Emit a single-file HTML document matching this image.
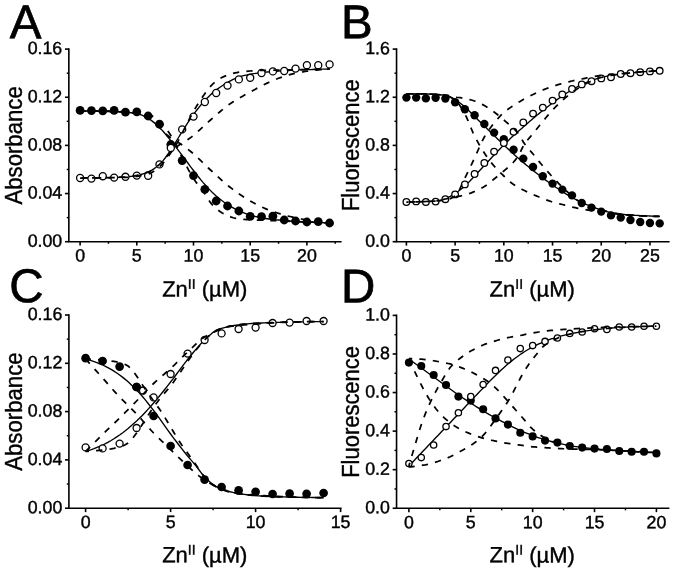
<!DOCTYPE html>
<html><head><meta charset="utf-8"><title>Figure</title>
<style>html,body{margin:0;padding:0;background:#fff;}body{width:675px;height:570px;overflow:hidden;font-family:"Liberation Sans", sans-serif;}svg{display:block;will-change:transform;filter:blur(0.35px);}</style></head>
<body>
<svg width="675" height="570" viewBox="0 0 675 570" font-family='"Liberation Sans", sans-serif' fill="#000">
<style>text{stroke:#000;stroke-width:0.4px;}</style>
<rect width="675" height="570" fill="#fff"/>
<path d="M80.10 111.00 L81.99 111.00 L83.88 111.01 L85.77 111.02 L87.66 111.03 L89.55 111.04 L91.44 111.06 L93.33 111.08 L95.22 111.10 L97.11 111.12 L99.00 111.15 L100.89 111.17 L102.78 111.20 L104.67 111.23 L106.56 111.28 L108.45 111.33 L110.34 111.39 L112.23 111.47 L114.12 111.55 L116.01 111.64 L117.90 111.73 L119.79 111.84 L121.68 111.95 L123.57 112.07 L125.46 112.20 L127.35 112.34 L129.24 112.52 L131.13 112.73 L133.02 112.97 L134.91 113.26 L136.80 113.60 L138.69 114.06 L140.58 114.70 L142.47 115.49 L144.36 116.39 L146.25 117.37 L148.14 118.40 L150.03 119.55 L151.92 120.89 L153.81 122.39 L155.70 124.01 L157.59 125.72 L159.48 127.50 L161.37 129.40 L163.26 131.49 L165.15 133.71 L167.04 136.02 L168.93 138.36 L170.82 140.70 L172.71 143.05 L174.60 145.47 L176.49 147.93 L178.38 150.41 L180.27 152.91 L182.16 155.40 L184.05 157.91 L185.94 160.45 L187.83 163.00 L189.72 165.54 L191.61 168.04 L193.50 170.50 L195.39 172.93 L197.28 175.35 L199.17 177.74 L201.06 180.08 L202.95 182.34 L204.84 184.50 L206.73 186.59 L208.62 188.63 L210.51 190.61 L212.40 192.51 L214.29 194.31 L216.18 196.00 L218.07 197.59 L219.96 199.12 L221.85 200.57 L223.74 201.95 L225.63 203.26 L227.52 204.50 L229.41 205.69 L231.30 206.83 L233.19 207.92 L235.08 208.96 L236.97 209.92 L238.86 210.80 L240.75 211.62 L242.64 212.39 L244.53 213.11 L246.42 213.79 L248.31 214.42 L250.20 215.00 L252.09 215.55 L253.98 216.07 L255.87 216.56 L257.76 217.01 L259.65 217.43 L261.54 217.80 L263.43 218.14 L265.32 218.46 L267.21 218.76 L269.10 219.03 L270.99 219.28 L272.88 219.50 L274.77 219.70 L276.66 219.87 L278.55 220.03 L280.44 220.19 L282.33 220.34 L284.22 220.50 L286.11 220.67 L288.00 220.86 L289.89 221.04 L291.78 221.22 L293.67 221.37 L295.56 221.50 L297.45 221.60 L299.34 221.69 L301.23 221.77 L303.12 221.85 L305.01 221.92 L306.90 222.00 L308.79 222.08 L310.68 222.17 L312.57 222.25 L314.46 222.33 L316.35 222.42 L318.24 222.50 L320.13 222.58 L322.02 222.67 L323.91 222.75 L325.80 222.83 L327.69 222.92 L329.58 223.00" fill="none" stroke="#000" stroke-width="1.35"/>
<path d="M80.10 178.00 L81.99 177.99 L83.88 177.98 L85.77 177.96 L87.66 177.94 L89.55 177.92 L91.44 177.89 L93.33 177.86 L95.22 177.83 L97.11 177.80 L99.00 177.77 L100.89 177.73 L102.78 177.70 L104.67 177.66 L106.56 177.63 L108.45 177.59 L110.34 177.55 L112.23 177.50 L114.12 177.45 L116.01 177.40 L117.90 177.33 L119.79 177.26 L121.68 177.19 L123.57 177.10 L125.46 177.00 L127.35 176.86 L129.24 176.65 L131.13 176.39 L133.02 176.09 L134.91 175.76 L136.80 175.40 L138.69 175.01 L140.58 174.54 L142.47 174.02 L144.36 173.42 L146.25 172.75 L148.14 172.00 L150.03 171.12 L151.92 170.07 L153.81 168.86 L155.70 167.50 L157.59 166.01 L159.48 164.40 L161.37 162.56 L163.26 160.39 L165.15 157.98 L167.04 155.40 L168.93 152.71 L170.82 150.00 L172.71 147.17 L174.60 144.12 L176.49 140.94 L178.38 137.72 L180.27 134.55 L182.16 131.50 L184.05 128.55 L185.94 125.61 L187.83 122.70 L189.72 119.87 L191.61 117.13 L193.50 114.50 L195.39 111.96 L197.28 109.48 L199.17 107.08 L201.06 104.77 L202.95 102.57 L204.84 100.50 L206.73 98.54 L208.62 96.65 L210.51 94.84 L212.40 93.13 L214.29 91.51 L216.18 90.00 L218.07 88.58 L219.96 87.23 L221.85 85.95 L223.74 84.74 L225.63 83.59 L227.52 82.50 L229.41 81.44 L231.30 80.40 L233.19 79.41 L235.08 78.49 L236.97 77.68 L238.86 77.00 L240.75 76.43 L242.64 75.92 L244.53 75.46 L246.42 75.04 L248.31 74.66 L250.20 74.30 L252.09 73.96 L253.98 73.65 L255.87 73.36 L257.76 73.08 L259.65 72.83 L261.54 72.60 L263.43 72.39 L265.32 72.19 L267.21 72.00 L269.10 71.82 L270.99 71.66 L272.88 71.50 L274.77 71.35 L276.66 71.21 L278.55 71.07 L280.44 70.94 L282.33 70.82 L284.22 70.70 L286.11 70.59 L288.00 70.48 L289.89 70.37 L291.78 70.28 L293.67 70.18 L295.56 70.10 L297.45 70.02 L299.34 69.95 L301.23 69.89 L303.12 69.83 L305.01 69.76 L306.90 69.70 L308.79 69.63 L310.68 69.56 L312.57 69.49 L314.46 69.42 L316.35 69.36 L318.24 69.30 L320.13 69.24 L322.02 69.19 L323.91 69.14 L325.80 69.09 L327.69 69.04 L329.58 69.00" fill="none" stroke="#000" stroke-width="1.35"/>
<circle cx="80.10" cy="110.40" r="4.40" fill="#000"/>
<circle cx="91.44" cy="110.60" r="4.40" fill="#000"/>
<circle cx="102.78" cy="110.80" r="4.40" fill="#000"/>
<circle cx="114.12" cy="110.40" r="4.40" fill="#000"/>
<circle cx="125.46" cy="112.20" r="4.40" fill="#000"/>
<circle cx="136.80" cy="111.80" r="4.40" fill="#000"/>
<circle cx="148.14" cy="116.00" r="4.40" fill="#000"/>
<circle cx="159.48" cy="124.20" r="4.40" fill="#000"/>
<circle cx="170.82" cy="144.50" r="4.40" fill="#000"/>
<circle cx="182.16" cy="160.60" r="4.40" fill="#000"/>
<circle cx="193.50" cy="175.60" r="4.40" fill="#000"/>
<circle cx="204.84" cy="189.40" r="4.40" fill="#000"/>
<circle cx="216.18" cy="201.00" r="4.40" fill="#000"/>
<circle cx="227.52" cy="206.00" r="4.40" fill="#000"/>
<circle cx="238.86" cy="211.00" r="4.40" fill="#000"/>
<circle cx="250.20" cy="216.40" r="4.40" fill="#000"/>
<circle cx="261.54" cy="216.60" r="4.40" fill="#000"/>
<circle cx="272.88" cy="216.20" r="4.40" fill="#000"/>
<circle cx="284.22" cy="220.00" r="4.40" fill="#000"/>
<circle cx="295.56" cy="221.00" r="4.40" fill="#000"/>
<circle cx="306.90" cy="222.00" r="4.40" fill="#000"/>
<circle cx="318.24" cy="221.60" r="4.40" fill="#000"/>
<circle cx="329.58" cy="223.00" r="4.40" fill="#000"/>
<circle cx="80.10" cy="178.00" r="3.55" fill="#fff" stroke="#000" stroke-width="1.30"/>
<circle cx="91.44" cy="178.60" r="3.55" fill="#fff" stroke="#000" stroke-width="1.30"/>
<circle cx="102.78" cy="176.20" r="3.55" fill="#fff" stroke="#000" stroke-width="1.30"/>
<circle cx="114.12" cy="177.60" r="3.55" fill="#fff" stroke="#000" stroke-width="1.30"/>
<circle cx="125.46" cy="176.80" r="3.55" fill="#fff" stroke="#000" stroke-width="1.30"/>
<circle cx="136.80" cy="175.60" r="3.55" fill="#fff" stroke="#000" stroke-width="1.30"/>
<circle cx="148.14" cy="175.80" r="3.55" fill="#fff" stroke="#000" stroke-width="1.30"/>
<circle cx="159.48" cy="164.40" r="3.55" fill="#fff" stroke="#000" stroke-width="1.30"/>
<circle cx="170.82" cy="148.00" r="3.55" fill="#fff" stroke="#000" stroke-width="1.30"/>
<circle cx="182.16" cy="129.40" r="3.55" fill="#fff" stroke="#000" stroke-width="1.30"/>
<circle cx="193.50" cy="116.60" r="3.55" fill="#fff" stroke="#000" stroke-width="1.30"/>
<circle cx="204.84" cy="102.00" r="3.55" fill="#fff" stroke="#000" stroke-width="1.30"/>
<circle cx="216.18" cy="93.00" r="3.55" fill="#fff" stroke="#000" stroke-width="1.30"/>
<circle cx="227.52" cy="85.60" r="3.55" fill="#fff" stroke="#000" stroke-width="1.30"/>
<circle cx="238.86" cy="79.40" r="3.55" fill="#fff" stroke="#000" stroke-width="1.30"/>
<circle cx="250.20" cy="77.80" r="3.55" fill="#fff" stroke="#000" stroke-width="1.30"/>
<circle cx="261.54" cy="73.00" r="3.55" fill="#fff" stroke="#000" stroke-width="1.30"/>
<circle cx="272.88" cy="71.40" r="3.55" fill="#fff" stroke="#000" stroke-width="1.30"/>
<circle cx="284.22" cy="71.00" r="3.55" fill="#fff" stroke="#000" stroke-width="1.30"/>
<circle cx="295.56" cy="68.60" r="3.55" fill="#fff" stroke="#000" stroke-width="1.30"/>
<circle cx="306.90" cy="65.20" r="3.55" fill="#fff" stroke="#000" stroke-width="1.30"/>
<circle cx="318.24" cy="65.20" r="3.55" fill="#fff" stroke="#000" stroke-width="1.30"/>
<circle cx="329.58" cy="64.40" r="3.55" fill="#fff" stroke="#000" stroke-width="1.30"/>
<path d="M80.10 111.00 L81.99 111.00 L83.88 111.00 L85.77 111.01 L87.66 111.02 L89.55 111.03 L91.44 111.04 L93.33 111.05 L95.22 111.07 L97.11 111.08 L99.00 111.10 L100.89 111.13 L102.78 111.15 L104.67 111.18 L106.56 111.20 L108.45 111.24 L110.34 111.27 L112.23 111.30 L114.12 111.34 L116.01 111.38 L117.90 111.42 L119.79 111.46 L121.68 111.50 L123.57 111.55 L125.46 111.60 L127.35 111.67 L129.24 111.77 L131.13 111.90 L133.02 112.06 L134.91 112.26 L136.80 112.49 L138.69 112.75 L140.58 113.04 L142.47 113.36 L144.36 113.71 L146.25 114.09 L148.14 114.50 L150.03 115.07 L151.92 115.90 L153.81 116.95 L155.70 118.18 L157.59 119.54 L159.48 121.00 L161.37 122.72 L163.26 124.83 L165.15 127.23 L167.04 129.84 L168.93 132.55 L170.82 135.57 L172.71 138.90 L174.60 142.41 L176.49 146.00 L178.38 149.76 L180.27 153.68 L182.16 157.50 L184.05 161.20 L185.94 164.90 L187.83 168.55 L189.72 172.07 L191.61 175.41 L193.50 178.50 L195.39 181.31 L197.28 183.89 L199.17 186.34 L201.06 188.75 L202.95 191.20 L204.84 193.80 L206.73 196.72 L208.62 199.81 L210.51 202.62 L212.40 204.80 L214.29 206.71 L216.18 208.46 L218.07 210.06 L219.96 211.48 L221.85 212.74 L223.74 213.81 L225.63 214.74 L227.52 215.61 L229.41 216.42 L231.30 217.13 L233.19 217.74 L235.08 218.22 L236.97 218.56 L238.86 218.81 L240.75 219.03 L242.64 219.21 L244.53 219.37 L246.42 219.51 L248.31 219.62 L250.20 219.73 L252.09 219.82 L253.98 219.91 L255.87 219.99 L257.76 220.06 L259.65 220.13 L261.54 220.20 L263.43 220.26 L265.32 220.33 L267.21 220.39 L269.10 220.46 L270.99 220.53 L272.88 220.60 L274.77 220.68 L276.66 220.75 L278.55 220.83 L280.44 220.91 L282.33 220.98 L284.22 221.06 L286.11 221.14 L288.00 221.21 L289.89 221.29 L291.78 221.37 L293.67 221.45 L295.56 221.52 L297.45 221.60 L299.34 221.68 L301.23 221.76 L303.12 221.84 L305.01 221.92 L306.90 222.00 L308.79 222.08 L310.68 222.16 L312.57 222.24 L314.46 222.33 L316.35 222.41 L318.24 222.49 L320.13 222.58 L322.02 222.66 L323.91 222.74 L325.80 222.83 L327.69 222.91 L329.58 223.00" fill="none" stroke="#000" stroke-width="1.75" stroke-dasharray="6.3 7.2" stroke-dashoffset="0"/>
<path d="M80.10 111.00 L81.99 111.00 L83.88 111.01 L85.77 111.02 L87.66 111.03 L89.55 111.05 L91.44 111.07 L93.33 111.10 L95.22 111.13 L97.11 111.17 L99.00 111.21 L100.89 111.25 L102.78 111.30 L104.67 111.35 L106.56 111.41 L108.45 111.47 L110.34 111.53 L112.23 111.60 L114.12 111.67 L116.01 111.75 L117.90 111.83 L119.79 111.92 L121.68 112.01 L123.57 112.10 L125.46 112.20 L127.35 112.34 L129.24 112.57 L131.13 112.88 L133.02 113.26 L134.91 113.71 L136.80 114.23 L138.69 114.80 L140.58 115.43 L142.47 116.11 L144.36 116.84 L146.25 117.60 L148.14 118.40 L150.03 119.41 L151.92 120.76 L153.81 122.34 L155.70 124.06 L157.59 125.81 L159.48 127.50 L161.37 129.22 L163.26 131.06 L165.15 132.94 L167.04 134.78 L168.93 136.49 L170.82 138.00 L172.71 139.27 L174.60 140.39 L176.49 141.46 L178.38 142.55 L180.27 143.75 L182.16 145.04 L184.05 146.37 L185.94 147.76 L187.83 149.20 L189.72 150.69 L191.61 152.25 L193.50 153.89 L195.39 155.60 L197.28 157.36 L199.17 159.17 L201.06 160.99 L202.95 162.83 L204.84 164.66 L206.73 166.48 L208.62 168.26 L210.51 170.00 L212.40 171.72 L214.29 173.46 L216.18 175.20 L218.07 176.93 L219.96 178.65 L221.85 180.35 L223.74 182.01 L225.63 183.63 L227.52 185.20 L229.41 186.71 L231.30 188.16 L233.19 189.60 L235.08 191.01 L236.97 192.39 L238.86 193.74 L240.75 195.06 L242.64 196.33 L244.53 197.57 L246.42 198.76 L248.31 199.91 L250.20 201.00 L252.09 202.05 L253.98 203.08 L255.87 204.08 L257.76 205.06 L259.65 206.00 L261.54 206.91 L263.43 207.78 L265.32 208.61 L267.21 209.40 L269.10 210.14 L270.99 210.85 L272.88 211.52 L274.77 212.17 L276.66 212.79 L278.55 213.38 L280.44 213.96 L282.33 214.51 L284.22 215.03 L286.11 215.54 L288.00 216.03 L289.89 216.50 L291.78 216.95 L293.67 217.39 L295.56 217.82 L297.45 218.22 L299.34 218.62 L301.23 218.99 L303.12 219.35 L305.01 219.68 L306.90 220.00 L308.79 220.30 L310.68 220.60 L312.57 220.89 L314.46 221.17 L316.35 221.44 L318.24 221.71 L320.13 221.95 L322.02 222.19 L323.91 222.42 L325.80 222.63 L327.69 222.82 L329.58 223.00" fill="none" stroke="#000" stroke-width="1.75" stroke-dasharray="6.3 7.2" stroke-dashoffset="1.8"/>
<path d="M80.10 178.00 L81.99 178.00 L83.88 178.00 L85.77 177.99 L87.66 177.98 L89.55 177.97 L91.44 177.96 L93.33 177.95 L95.22 177.93 L97.11 177.92 L99.00 177.90 L100.89 177.88 L102.78 177.85 L104.67 177.83 L106.56 177.80 L108.45 177.77 L110.34 177.74 L112.23 177.70 L114.12 177.66 L116.01 177.63 L117.90 177.59 L119.79 177.54 L121.68 177.50 L123.57 177.45 L125.46 177.40 L127.35 177.33 L129.24 177.21 L131.13 177.06 L133.02 176.86 L134.91 176.63 L136.80 176.36 L138.69 176.05 L140.58 175.71 L142.47 175.33 L144.36 174.92 L146.25 174.47 L148.14 174.00 L150.03 173.36 L151.92 172.45 L153.81 171.31 L155.70 169.99 L157.59 168.54 L159.48 167.00 L161.37 165.21 L163.26 163.04 L165.15 160.62 L167.04 158.07 L168.93 155.48 L170.82 152.81 L172.71 149.99 L174.60 147.03 L176.49 143.93 L178.38 140.67 L180.27 137.11 L182.16 133.33 L184.05 129.46 L185.94 125.64 L187.83 122.00 L189.72 118.47 L191.61 114.95 L193.50 111.49 L195.39 108.14 L197.28 104.96 L199.17 102.00 L201.06 99.17 L202.95 96.36 L204.84 93.63 L206.73 91.02 L208.62 88.58 L210.51 86.34 L212.40 84.37 L214.29 82.69 L216.18 81.20 L218.07 79.85 L219.96 78.64 L221.85 77.57 L223.74 76.66 L225.63 75.87 L227.52 75.14 L229.41 74.47 L231.30 73.86 L233.19 73.34 L235.08 72.89 L236.97 72.54 L238.86 72.23 L240.75 71.96 L242.64 71.72 L244.53 71.50 L246.42 71.31 L248.31 71.15 L250.20 71.00 L252.09 70.87 L253.98 70.75 L255.87 70.64 L257.76 70.54 L259.65 70.46 L261.54 70.40 L263.43 70.35 L265.32 70.30 L267.21 70.26 L269.10 70.22 L270.99 70.18 L272.88 70.15 L274.77 70.12 L276.66 70.09 L278.55 70.06 L280.44 70.04 L282.33 70.01 L284.22 69.98 L286.11 69.96 L288.00 69.93 L289.89 69.90 L291.78 69.87 L293.67 69.84 L295.56 69.80 L297.45 69.76 L299.34 69.72 L301.23 69.68 L303.12 69.64 L305.01 69.60 L306.90 69.56 L308.79 69.51 L310.68 69.47 L312.57 69.43 L314.46 69.38 L316.35 69.34 L318.24 69.29 L320.13 69.24 L322.02 69.20 L323.91 69.15 L325.80 69.10 L327.69 69.05 L329.58 69.00" fill="none" stroke="#000" stroke-width="1.75" stroke-dasharray="6.3 7.2" stroke-dashoffset="-1.4"/>
<path d="M80.10 178.00 L81.99 178.00 L83.88 177.99 L85.77 177.98 L87.66 177.97 L89.55 177.96 L91.44 177.94 L93.33 177.91 L95.22 177.89 L97.11 177.86 L99.00 177.83 L100.89 177.79 L102.78 177.75 L104.67 177.71 L106.56 177.66 L108.45 177.61 L110.34 177.56 L112.23 177.50 L114.12 177.44 L116.01 177.37 L117.90 177.31 L119.79 177.23 L121.68 177.16 L123.57 177.08 L125.46 177.00 L127.35 176.88 L129.24 176.70 L131.13 176.45 L133.02 176.15 L134.91 175.78 L136.80 175.37 L138.69 174.91 L140.58 174.40 L142.47 173.86 L144.36 173.27 L146.25 172.65 L148.14 172.00 L150.03 171.19 L151.92 170.14 L153.81 168.88 L155.70 167.47 L157.59 165.96 L159.48 164.40 L161.37 162.64 L163.26 160.60 L165.15 158.39 L167.04 156.14 L168.93 153.97 L170.82 152.00 L172.71 150.20 L174.60 148.48 L176.49 146.89 L178.38 145.44 L180.27 144.16 L182.16 142.98 L184.05 141.86 L185.94 140.73 L187.83 139.56 L189.72 138.27 L191.61 136.86 L193.50 135.34 L195.39 133.74 L197.28 132.07 L199.17 130.36 L201.06 128.61 L202.95 126.85 L204.84 125.09 L206.73 123.35 L208.62 121.65 L210.51 120.00 L212.40 118.37 L214.29 116.72 L216.18 115.06 L218.07 113.40 L219.96 111.76 L221.85 110.15 L223.74 108.59 L225.63 107.07 L227.52 105.63 L229.41 104.26 L231.30 102.98 L233.19 101.74 L235.08 100.55 L236.97 99.41 L238.86 98.29 L240.75 97.21 L242.64 96.15 L244.53 95.10 L246.42 94.06 L248.31 93.03 L250.20 92.00 L252.09 90.96 L253.98 89.93 L255.87 88.90 L257.76 87.88 L259.65 86.88 L261.54 85.89 L263.43 84.93 L265.32 83.99 L267.21 83.09 L269.10 82.22 L270.99 81.39 L272.88 80.58 L274.77 79.79 L276.66 79.02 L278.55 78.29 L280.44 77.59 L282.33 76.92 L284.22 76.30 L286.11 75.71 L288.00 75.13 L289.89 74.59 L291.78 74.08 L293.67 73.61 L295.56 73.20 L297.45 72.82 L299.34 72.47 L301.23 72.13 L303.12 71.81 L305.01 71.51 L306.90 71.23 L308.79 70.97 L310.68 70.72 L312.57 70.50 L314.46 70.29 L316.35 70.09 L318.24 69.89 L320.13 69.71 L322.02 69.54 L323.91 69.38 L325.80 69.24 L327.69 69.11 L329.58 69.00" fill="none" stroke="#000" stroke-width="1.75" stroke-dasharray="6.3 7.2" stroke-dashoffset="1.6"/>
<path d="M68.85 49.10 V241.70 H340.80" fill="none" stroke="#000" stroke-width="1.60" stroke-linecap="square"/>
<path d="M68.85 241.70 H64.95" stroke="#000" stroke-width="1.60"/>
<text x="62.25" y="246.75" font-size="17.80" text-anchor="end" transform="rotate(0.05 62.25 246.75)">0.00</text>
<path d="M68.85 217.62 H66.75" stroke="#000" stroke-width="1.44"/>
<path d="M68.85 193.55 H64.95" stroke="#000" stroke-width="1.60"/>
<text x="62.25" y="198.60" font-size="17.80" text-anchor="end" transform="rotate(0.05 62.25 198.60)">0.04</text>
<path d="M68.85 169.47 H66.75" stroke="#000" stroke-width="1.44"/>
<path d="M68.85 145.40 H64.95" stroke="#000" stroke-width="1.60"/>
<text x="62.25" y="150.45" font-size="17.80" text-anchor="end" transform="rotate(0.05 62.25 150.45)">0.08</text>
<path d="M68.85 121.32 H66.75" stroke="#000" stroke-width="1.44"/>
<path d="M68.85 97.25 H64.95" stroke="#000" stroke-width="1.60"/>
<text x="62.25" y="102.30" font-size="17.80" text-anchor="end" transform="rotate(0.05 62.25 102.30)">0.12</text>
<path d="M68.85 73.17 H66.75" stroke="#000" stroke-width="1.44"/>
<path d="M68.85 49.10 H64.95" stroke="#000" stroke-width="1.60"/>
<text x="62.25" y="54.15" font-size="17.80" text-anchor="end" transform="rotate(0.05 62.25 54.15)">0.16</text>
<path d="M80.10 241.70 V245.60" stroke="#000" stroke-width="1.60"/>
<text x="80.10" y="261.60" font-size="17.80" text-anchor="middle" transform="rotate(0.05 80.10 261.60)">0</text>
<path d="M136.80 241.70 V245.60" stroke="#000" stroke-width="1.60"/>
<text x="136.80" y="261.60" font-size="17.80" text-anchor="middle" transform="rotate(0.05 136.80 261.60)">5</text>
<path d="M193.50 241.70 V245.60" stroke="#000" stroke-width="1.60"/>
<text x="193.50" y="261.60" font-size="17.80" text-anchor="middle" transform="rotate(0.05 193.50 261.60)">10</text>
<path d="M250.20 241.70 V245.60" stroke="#000" stroke-width="1.60"/>
<text x="250.20" y="261.60" font-size="17.80" text-anchor="middle" transform="rotate(0.05 250.20 261.60)">15</text>
<path d="M306.90 241.70 V245.60" stroke="#000" stroke-width="1.60"/>
<text x="306.90" y="261.60" font-size="17.80" text-anchor="middle" transform="rotate(0.05 306.90 261.60)">20</text>
<path d="M108.45 241.70 V243.80" stroke="#000" stroke-width="1.44"/>
<path d="M165.15 241.70 V243.80" stroke="#000" stroke-width="1.44"/>
<path d="M221.85 241.70 V243.80" stroke="#000" stroke-width="1.44"/>
<path d="M278.55 241.70 V243.80" stroke="#000" stroke-width="1.44"/>
<path d="M335.25 241.70 V243.80" stroke="#000" stroke-width="1.44"/>
<text transform="translate(22.00 145.40) rotate(-90) scale(0.952 1)" font-size="23.30" text-anchor="middle">Absorbance</text>
<text x="204.80" y="296.50" font-size="22.00" text-anchor="middle" transform="rotate(0.05 204.80 296.50)">Zn<tspan font-size="14" dy="-7.8">II</tspan><tspan dy="7.8"> (µM)</tspan></text>
<text x="9.70" y="38.30" font-size="47.50" text-anchor="start" transform="rotate(0.05 9.70 38.30)" style="stroke-width:0.7px">A</text>
<path d="M406.40 93.80 L408.02 93.80 L409.65 93.81 L411.27 93.81 L412.89 93.83 L414.52 93.84 L416.14 93.86 L417.77 93.88 L419.39 93.90 L421.01 93.92 L422.64 93.94 L424.26 93.97 L425.88 94.00 L427.51 94.04 L429.13 94.08 L430.75 94.15 L432.38 94.22 L434.00 94.31 L435.63 94.42 L437.25 94.54 L438.87 94.68 L440.50 94.83 L442.12 95.00 L443.74 95.19 L445.37 95.40 L446.99 95.74 L448.62 96.29 L450.24 96.99 L451.86 97.81 L453.49 98.70 L455.11 99.60 L456.73 100.58 L458.36 101.70 L459.98 102.93 L461.60 104.25 L463.23 105.61 L464.85 107.00 L466.48 108.45 L468.10 109.99 L469.72 111.60 L471.35 113.25 L472.97 114.89 L474.59 116.50 L476.22 118.08 L477.84 119.67 L479.46 121.25 L481.09 122.83 L482.71 124.42 L484.34 126.00 L485.96 127.58 L487.58 129.17 L489.21 130.75 L490.83 132.33 L492.45 133.92 L494.08 135.50 L495.70 137.09 L497.33 138.69 L498.95 140.28 L500.57 141.87 L502.20 143.45 L503.82 145.00 L505.44 146.53 L507.07 148.06 L508.69 149.56 L510.31 151.06 L511.94 152.54 L513.56 154.00 L515.19 155.45 L516.81 156.89 L518.43 158.31 L520.06 159.72 L521.68 161.12 L523.30 162.50 L524.93 163.87 L526.55 165.22 L528.17 166.56 L529.80 167.89 L531.42 169.20 L533.05 170.50 L534.67 171.78 L536.29 173.05 L537.92 174.31 L539.54 175.56 L541.16 176.79 L542.79 178.00 L544.41 179.20 L546.04 180.39 L547.66 181.56 L549.28 182.72 L550.91 183.87 L552.53 185.00 L554.15 186.12 L555.78 187.22 L557.40 188.31 L559.02 189.39 L560.65 190.45 L562.27 191.50 L563.90 192.54 L565.52 193.58 L567.14 194.60 L568.77 195.60 L570.39 196.57 L572.01 197.50 L573.64 198.40 L575.26 199.28 L576.88 200.13 L578.51 200.95 L580.13 201.74 L581.76 202.50 L583.38 203.22 L585.00 203.92 L586.63 204.59 L588.25 205.24 L589.87 205.87 L591.50 206.50 L593.12 207.12 L594.75 207.74 L596.37 208.35 L597.99 208.94 L599.62 209.49 L601.24 210.00 L602.86 210.48 L604.49 210.94 L606.11 211.38 L607.73 211.79 L609.36 212.17 L610.98 212.50 L612.61 212.80 L614.23 213.08 L615.85 213.33 L617.48 213.57 L619.10 213.79 L620.72 214.00 L622.35 214.20 L623.97 214.38 L625.60 214.56 L627.22 214.72 L628.84 214.87 L630.47 215.00 L632.09 215.12 L633.71 215.23 L635.34 215.33 L636.96 215.43 L638.58 215.52 L640.21 215.60 L641.83 215.68 L643.46 215.75 L645.08 215.81 L646.70 215.87 L648.33 215.94 L649.95 216.00 L651.57 216.07 L653.20 216.13 L654.82 216.20 L656.44 216.27 L658.07 216.33 L659.69 216.40" fill="none" stroke="#000" stroke-width="1.35"/>
<path d="M406.40 202.00 L408.02 202.00 L409.65 201.99 L411.27 201.97 L412.89 201.95 L414.52 201.92 L416.14 201.89 L417.77 201.85 L419.39 201.80 L421.01 201.75 L422.64 201.69 L424.26 201.63 L425.88 201.56 L427.51 201.48 L429.13 201.40 L430.75 201.31 L432.38 201.21 L434.00 201.11 L435.63 201.00 L437.25 200.81 L438.87 200.50 L440.50 200.08 L442.12 199.59 L443.74 199.06 L445.37 198.50 L446.99 197.88 L448.62 197.15 L450.24 196.33 L451.86 195.44 L453.49 194.49 L455.11 193.50 L456.73 192.45 L458.36 191.30 L459.98 190.07 L461.60 188.77 L463.23 187.41 L464.85 186.00 L466.48 184.50 L468.10 182.90 L469.72 181.21 L471.35 179.48 L472.97 177.73 L474.59 176.00 L476.22 174.28 L477.84 172.54 L479.46 170.78 L481.09 169.02 L482.71 167.26 L484.34 165.50 L485.96 163.74 L487.58 161.98 L489.21 160.22 L490.83 158.46 L492.45 156.72 L494.08 155.00 L495.70 153.30 L497.33 151.61 L498.95 149.94 L500.57 148.28 L502.20 146.63 L503.82 145.00 L505.44 143.38 L507.07 141.76 L508.69 140.15 L510.31 138.57 L511.94 137.02 L513.56 135.50 L515.19 134.03 L516.81 132.60 L518.43 131.19 L520.06 129.80 L521.68 128.41 L523.30 127.00 L524.93 125.58 L526.55 124.15 L528.17 122.72 L529.80 121.30 L531.42 119.89 L533.05 118.50 L534.67 117.13 L536.29 115.78 L537.92 114.44 L539.54 113.11 L541.16 111.80 L542.79 110.50 L544.41 109.22 L546.04 107.95 L547.66 106.69 L549.28 105.44 L550.91 104.21 L552.53 103.00 L554.15 101.80 L555.78 100.60 L557.40 99.42 L559.02 98.25 L560.65 97.11 L562.27 96.00 L563.90 94.91 L565.52 93.84 L567.14 92.79 L568.77 91.77 L570.39 90.77 L572.01 89.80 L573.64 88.85 L575.26 87.92 L576.88 87.01 L578.51 86.13 L580.13 85.29 L581.76 84.50 L583.38 83.76 L585.00 83.04 L586.63 82.36 L588.25 81.71 L589.87 81.09 L591.50 80.50 L593.12 79.94 L594.75 79.39 L596.37 78.87 L597.99 78.38 L599.62 77.92 L601.24 77.50 L602.86 77.11 L604.49 76.75 L606.11 76.41 L607.73 76.09 L609.36 75.79 L610.98 75.50 L612.61 75.22 L614.23 74.95 L615.85 74.69 L617.48 74.44 L619.10 74.21 L620.72 74.00 L622.35 73.81 L623.97 73.64 L625.60 73.47 L627.22 73.32 L628.84 73.16 L630.47 73.00 L632.09 72.83 L633.71 72.65 L635.34 72.48 L636.96 72.31 L638.58 72.15 L640.21 72.00 L641.83 71.87 L643.46 71.74 L645.08 71.62 L646.70 71.51 L648.33 71.40 L649.95 71.30 L651.57 71.20 L653.20 71.11 L654.82 71.03 L656.44 70.95 L658.07 70.87 L659.69 70.80" fill="none" stroke="#000" stroke-width="1.35"/>
<circle cx="406.40" cy="97.60" r="4.20" fill="#000"/>
<circle cx="416.14" cy="97.60" r="4.20" fill="#000"/>
<circle cx="425.88" cy="98.40" r="4.20" fill="#000"/>
<circle cx="435.63" cy="97.80" r="4.20" fill="#000"/>
<circle cx="445.37" cy="98.60" r="4.20" fill="#000"/>
<circle cx="455.11" cy="102.20" r="4.20" fill="#000"/>
<circle cx="464.85" cy="109.20" r="4.20" fill="#000"/>
<circle cx="474.59" cy="115.20" r="4.20" fill="#000"/>
<circle cx="484.34" cy="124.00" r="4.20" fill="#000"/>
<circle cx="494.08" cy="132.60" r="4.20" fill="#000"/>
<circle cx="503.82" cy="139.10" r="4.20" fill="#000"/>
<circle cx="513.56" cy="149.80" r="4.20" fill="#000"/>
<circle cx="523.30" cy="158.60" r="4.20" fill="#000"/>
<circle cx="533.05" cy="167.00" r="4.20" fill="#000"/>
<circle cx="542.79" cy="176.20" r="4.20" fill="#000"/>
<circle cx="552.53" cy="183.60" r="4.20" fill="#000"/>
<circle cx="562.27" cy="189.60" r="4.20" fill="#000"/>
<circle cx="572.01" cy="195.40" r="4.20" fill="#000"/>
<circle cx="581.76" cy="203.00" r="4.20" fill="#000"/>
<circle cx="591.50" cy="207.60" r="4.20" fill="#000"/>
<circle cx="601.24" cy="211.60" r="4.20" fill="#000"/>
<circle cx="610.98" cy="215.40" r="4.20" fill="#000"/>
<circle cx="620.72" cy="217.60" r="4.20" fill="#000"/>
<circle cx="630.47" cy="220.00" r="4.20" fill="#000"/>
<circle cx="640.21" cy="222.00" r="4.20" fill="#000"/>
<circle cx="649.95" cy="223.00" r="4.20" fill="#000"/>
<circle cx="659.69" cy="223.40" r="4.20" fill="#000"/>
<circle cx="406.40" cy="202.00" r="3.30" fill="#fff" stroke="#000" stroke-width="1.30"/>
<circle cx="416.14" cy="201.40" r="3.30" fill="#fff" stroke="#000" stroke-width="1.30"/>
<circle cx="425.88" cy="202.00" r="3.30" fill="#fff" stroke="#000" stroke-width="1.30"/>
<circle cx="435.63" cy="201.60" r="3.30" fill="#fff" stroke="#000" stroke-width="1.30"/>
<circle cx="445.37" cy="199.20" r="3.30" fill="#fff" stroke="#000" stroke-width="1.30"/>
<circle cx="455.11" cy="194.40" r="3.30" fill="#fff" stroke="#000" stroke-width="1.30"/>
<circle cx="464.85" cy="184.40" r="3.30" fill="#fff" stroke="#000" stroke-width="1.30"/>
<circle cx="474.59" cy="174.00" r="3.30" fill="#fff" stroke="#000" stroke-width="1.30"/>
<circle cx="484.34" cy="163.00" r="3.30" fill="#fff" stroke="#000" stroke-width="1.30"/>
<circle cx="494.08" cy="151.60" r="3.30" fill="#fff" stroke="#000" stroke-width="1.30"/>
<circle cx="503.82" cy="143.00" r="3.30" fill="#fff" stroke="#000" stroke-width="1.30"/>
<circle cx="513.56" cy="131.80" r="3.30" fill="#fff" stroke="#000" stroke-width="1.30"/>
<circle cx="523.30" cy="122.40" r="3.30" fill="#fff" stroke="#000" stroke-width="1.30"/>
<circle cx="533.05" cy="113.60" r="3.30" fill="#fff" stroke="#000" stroke-width="1.30"/>
<circle cx="542.79" cy="107.60" r="3.30" fill="#fff" stroke="#000" stroke-width="1.30"/>
<circle cx="552.53" cy="100.60" r="3.30" fill="#fff" stroke="#000" stroke-width="1.30"/>
<circle cx="562.27" cy="94.40" r="3.30" fill="#fff" stroke="#000" stroke-width="1.30"/>
<circle cx="572.01" cy="89.00" r="3.30" fill="#fff" stroke="#000" stroke-width="1.30"/>
<circle cx="581.76" cy="84.40" r="3.30" fill="#fff" stroke="#000" stroke-width="1.30"/>
<circle cx="591.50" cy="81.20" r="3.30" fill="#fff" stroke="#000" stroke-width="1.30"/>
<circle cx="601.24" cy="78.40" r="3.30" fill="#fff" stroke="#000" stroke-width="1.30"/>
<circle cx="610.98" cy="77.30" r="3.30" fill="#fff" stroke="#000" stroke-width="1.30"/>
<circle cx="620.72" cy="74.00" r="3.30" fill="#fff" stroke="#000" stroke-width="1.30"/>
<circle cx="630.47" cy="73.20" r="3.30" fill="#fff" stroke="#000" stroke-width="1.30"/>
<circle cx="640.21" cy="72.20" r="3.30" fill="#fff" stroke="#000" stroke-width="1.30"/>
<circle cx="649.95" cy="71.40" r="3.30" fill="#fff" stroke="#000" stroke-width="1.30"/>
<circle cx="659.69" cy="70.80" r="3.30" fill="#fff" stroke="#000" stroke-width="1.30"/>
<path d="M406.40 93.80 L408.02 93.80 L409.65 93.81 L411.27 93.81 L412.89 93.83 L414.52 93.84 L416.14 93.86 L417.77 93.87 L419.39 93.90 L421.01 93.92 L422.64 93.94 L424.26 93.97 L425.88 94.00 L427.51 94.04 L429.13 94.09 L430.75 94.15 L432.38 94.23 L434.00 94.33 L435.63 94.44 L437.25 94.58 L438.87 94.72 L440.50 94.89 L442.12 95.07 L443.74 95.28 L445.37 95.50 L446.99 95.84 L448.62 96.37 L450.24 97.07 L451.86 97.93 L453.49 98.91 L455.11 100.00 L456.73 101.43 L458.36 103.37 L459.98 105.71 L461.60 108.34 L463.23 111.14 L464.85 114.00 L466.48 117.17 L468.10 120.82 L469.72 124.74 L471.35 128.72 L472.97 132.55 L474.59 136.00 L476.22 139.14 L477.84 142.16 L479.46 145.06 L481.09 147.83 L482.71 150.48 L484.34 153.00 L485.96 155.41 L487.58 157.72 L489.21 159.93 L490.83 162.05 L492.45 164.07 L494.08 166.00 L495.70 167.84 L497.33 169.59 L498.95 171.26 L500.57 172.88 L502.20 174.46 L503.82 176.00 L505.44 177.54 L507.07 179.07 L508.69 180.56 L510.31 181.99 L511.94 183.31 L513.56 184.50 L515.19 185.57 L516.81 186.55 L518.43 187.47 L520.06 188.34 L521.68 189.17 L523.30 190.00 L524.93 190.81 L526.55 191.59 L528.17 192.34 L529.80 193.07 L531.42 193.79 L533.05 194.50 L534.67 195.20 L536.29 195.89 L537.92 196.56 L539.54 197.22 L541.16 197.87 L542.79 198.50 L544.41 199.12 L546.04 199.74 L547.66 200.35 L549.28 200.94 L550.91 201.49 L552.53 202.00 L554.15 202.46 L555.78 202.90 L557.40 203.30 L559.02 203.70 L560.65 204.09 L562.27 204.50 L563.90 204.92 L565.52 205.35 L567.14 205.78 L568.77 206.21 L570.39 206.62 L572.01 207.00 L573.64 207.37 L575.26 207.72 L576.88 208.06 L578.51 208.39 L580.13 208.70 L581.76 209.00 L583.38 209.27 L585.00 209.53 L586.63 209.78 L588.25 210.02 L589.87 210.25 L591.50 210.50 L593.12 210.75 L594.75 211.01 L596.37 211.27 L597.99 211.52 L599.62 211.76 L601.24 212.00 L602.86 212.23 L604.49 212.46 L606.11 212.70 L607.73 212.93 L609.36 213.16 L610.98 213.38 L612.61 213.60 L614.23 213.80 L615.85 214.00 L617.48 214.18 L619.10 214.35 L620.72 214.50 L622.35 214.64 L623.97 214.78 L625.60 214.91 L627.22 215.03 L628.84 215.15 L630.47 215.26 L632.09 215.37 L633.71 215.47 L635.34 215.56 L636.96 215.65 L638.58 215.73 L640.21 215.80 L641.83 215.87 L643.46 215.93 L645.08 216.00 L646.70 216.06 L648.33 216.12 L649.95 216.17 L651.57 216.22 L653.20 216.27 L654.82 216.31 L656.44 216.35 L658.07 216.38 L659.69 216.40" fill="none" stroke="#000" stroke-width="1.75" stroke-dasharray="6.3 7.2" stroke-dashoffset="-1"/>
<path d="M406.40 93.80 L408.02 93.80 L409.65 93.81 L411.27 93.82 L412.89 93.83 L414.52 93.84 L416.14 93.86 L417.77 93.88 L419.39 93.90 L421.01 93.92 L422.64 93.95 L424.26 93.97 L425.88 94.00 L427.51 94.03 L429.13 94.07 L430.75 94.12 L432.38 94.18 L434.00 94.25 L435.63 94.33 L437.25 94.41 L438.87 94.51 L440.50 94.62 L442.12 94.74 L443.74 94.86 L445.37 95.00 L446.99 95.21 L448.62 95.52 L450.24 95.89 L451.86 96.29 L453.49 96.67 L455.11 97.00 L456.73 97.27 L458.36 97.50 L459.98 97.73 L461.60 97.96 L463.23 98.21 L464.85 98.50 L466.48 98.83 L468.10 99.19 L469.72 99.58 L471.35 100.01 L472.97 100.49 L474.59 101.00 L476.22 101.58 L477.84 102.25 L479.46 102.99 L481.09 103.78 L482.71 104.63 L484.34 105.50 L485.96 106.43 L487.58 107.44 L489.21 108.52 L490.83 109.65 L492.45 110.81 L494.08 112.00 L495.70 113.23 L497.33 114.53 L498.95 115.87 L500.57 117.24 L502.20 118.62 L503.82 120.00 L505.44 121.36 L507.07 122.71 L508.69 124.08 L510.31 125.48 L511.94 126.95 L513.56 128.50 L515.19 130.11 L516.81 131.80 L518.43 133.71 L520.06 136.01 L521.68 139.09 L523.30 142.00 L524.93 144.30 L526.55 146.39 L528.17 148.33 L529.80 150.19 L531.42 152.06 L533.05 154.00 L534.67 156.01 L536.29 158.04 L537.92 160.07 L539.54 162.08 L541.16 164.06 L542.79 166.00 L544.41 167.90 L546.04 169.78 L547.66 171.63 L549.28 173.45 L550.91 175.24 L552.53 177.00 L554.15 178.73 L555.78 180.44 L557.40 182.13 L559.02 183.78 L560.65 185.41 L562.27 187.00 L563.90 188.58 L565.52 190.15 L567.14 191.70 L568.77 193.20 L570.39 194.64 L572.01 196.00 L573.64 197.31 L575.26 198.60 L576.88 199.85 L578.51 201.01 L580.13 202.07 L581.76 203.00 L583.38 203.81 L585.00 204.54 L586.63 205.21 L588.25 205.83 L589.87 206.42 L591.50 207.00 L593.12 207.56 L594.75 208.10 L596.37 208.62 L597.99 209.11 L599.62 209.57 L601.24 210.00 L602.86 210.41 L604.49 210.82 L606.11 211.22 L607.73 211.62 L609.36 212.00 L610.98 212.37 L612.61 212.71 L614.23 213.04 L615.85 213.33 L617.48 213.59 L619.10 213.82 L620.72 214.00 L622.35 214.16 L623.97 214.32 L625.60 214.48 L627.22 214.63 L628.84 214.78 L630.47 214.93 L632.09 215.07 L633.71 215.20 L635.34 215.33 L636.96 215.46 L638.58 215.58 L640.21 215.69 L641.83 215.80 L643.46 215.89 L645.08 215.99 L646.70 216.07 L648.33 216.14 L649.95 216.21 L651.57 216.27 L653.20 216.31 L654.82 216.35 L656.44 216.38 L658.07 216.39 L659.69 216.40" fill="none" stroke="#000" stroke-width="1.75" stroke-dasharray="6.3 7.2" stroke-dashoffset="4"/>
<path d="M406.40 202.00 L408.02 202.00 L409.65 201.98 L411.27 201.96 L412.89 201.94 L414.52 201.90 L416.14 201.86 L417.77 201.82 L419.39 201.76 L421.01 201.70 L422.64 201.64 L424.26 201.57 L425.88 201.50 L427.51 201.43 L429.13 201.35 L430.75 201.26 L432.38 201.18 L434.00 201.09 L435.63 201.00 L437.25 200.90 L438.87 200.78 L440.50 200.63 L442.12 200.46 L443.74 200.25 L445.37 200.00 L446.99 199.67 L448.62 199.21 L450.24 198.62 L451.86 197.89 L453.49 197.02 L455.11 196.00 L456.73 194.35 L458.36 191.77 L459.98 188.55 L461.60 184.99 L463.23 181.37 L464.85 178.00 L466.48 174.80 L468.10 171.53 L469.72 168.19 L471.35 164.82 L472.97 161.41 L474.59 158.00 L476.22 154.46 L477.84 150.76 L479.46 147.04 L481.09 143.42 L482.71 140.03 L484.34 137.00 L485.96 134.30 L487.58 131.77 L489.21 129.40 L490.83 127.16 L492.45 125.04 L494.08 123.00 L495.70 121.03 L497.33 119.12 L498.95 117.30 L500.57 115.58 L502.20 113.97 L503.82 112.50 L505.44 111.16 L507.07 109.92 L508.69 108.76 L510.31 107.65 L511.94 106.57 L513.56 105.50 L515.19 104.43 L516.81 103.39 L518.43 102.37 L520.06 101.39 L521.68 100.43 L523.30 99.50 L524.93 98.61 L526.55 97.75 L528.17 96.91 L529.80 96.09 L531.42 95.29 L533.05 94.50 L534.67 93.71 L536.29 92.92 L537.92 92.15 L539.54 91.40 L541.16 90.68 L542.79 90.00 L544.41 89.36 L546.04 88.75 L547.66 88.16 L549.28 87.59 L550.91 87.04 L552.53 86.50 L554.15 85.97 L555.78 85.45 L557.40 84.94 L559.02 84.44 L560.65 83.96 L562.27 83.50 L563.90 83.05 L565.52 82.61 L567.14 82.19 L568.77 81.78 L570.39 81.38 L572.01 81.00 L573.64 80.64 L575.26 80.30 L576.88 79.97 L578.51 79.65 L580.13 79.33 L581.76 79.00 L583.38 78.66 L585.00 78.31 L586.63 77.96 L588.25 77.62 L589.87 77.30 L591.50 77.00 L593.12 76.72 L594.75 76.45 L596.37 76.19 L597.99 75.94 L599.62 75.71 L601.24 75.50 L602.86 75.31 L604.49 75.13 L606.11 74.96 L607.73 74.80 L609.36 74.65 L610.98 74.50 L612.61 74.36 L614.23 74.22 L615.85 74.09 L617.48 73.96 L619.10 73.83 L620.72 73.70 L622.35 73.56 L623.97 73.42 L625.60 73.27 L627.22 73.12 L628.84 72.97 L630.47 72.82 L632.09 72.67 L633.71 72.53 L635.34 72.39 L636.96 72.25 L638.58 72.12 L640.21 72.00 L641.83 71.88 L643.46 71.77 L645.08 71.66 L646.70 71.55 L648.33 71.45 L649.95 71.34 L651.57 71.24 L653.20 71.15 L654.82 71.06 L656.44 70.97 L658.07 70.88 L659.69 70.80" fill="none" stroke="#000" stroke-width="1.75" stroke-dasharray="6.3 7.2" stroke-dashoffset="-3"/>
<path d="M406.40 202.00 L408.02 202.00 L409.65 201.99 L411.27 201.97 L412.89 201.95 L414.52 201.92 L416.14 201.88 L417.77 201.84 L419.39 201.80 L421.01 201.74 L422.64 201.68 L424.26 201.62 L425.88 201.55 L427.51 201.47 L429.13 201.39 L430.75 201.30 L432.38 201.21 L434.00 201.11 L435.63 201.00 L437.25 200.82 L438.87 200.53 L440.50 200.17 L442.12 199.77 L443.74 199.36 L445.37 199.00 L446.99 198.67 L448.62 198.33 L450.24 198.00 L451.86 197.67 L453.49 197.33 L455.11 197.00 L456.73 196.68 L458.36 196.37 L459.98 196.07 L461.60 195.75 L463.23 195.40 L464.85 195.00 L466.48 194.54 L468.10 194.02 L469.72 193.45 L471.35 192.83 L472.97 192.18 L474.59 191.50 L476.22 190.79 L477.84 190.04 L479.46 189.24 L481.09 188.38 L482.71 187.47 L484.34 186.50 L485.96 185.43 L487.58 184.24 L489.21 182.97 L490.83 181.65 L492.45 180.31 L494.08 179.00 L495.70 177.71 L497.33 176.41 L498.95 175.09 L500.57 173.76 L502.20 172.39 L503.82 171.00 L505.44 169.61 L507.07 168.22 L508.69 166.81 L510.31 165.32 L511.94 163.73 L513.56 162.00 L515.19 160.08 L516.81 157.95 L518.43 155.57 L520.06 152.80 L521.68 149.25 L523.30 146.00 L524.93 143.52 L526.55 141.31 L528.17 139.29 L529.80 137.38 L531.42 135.47 L533.05 133.50 L534.67 131.47 L536.29 129.44 L537.92 127.44 L539.54 125.44 L541.16 123.46 L542.79 121.50 L544.41 119.53 L546.04 117.55 L547.66 115.58 L549.28 113.65 L550.91 111.78 L552.53 110.00 L554.15 108.29 L555.78 106.64 L557.40 105.04 L559.02 103.48 L560.65 101.97 L562.27 100.50 L563.90 99.07 L565.52 97.67 L567.14 96.31 L568.77 94.99 L570.39 93.72 L572.01 92.50 L573.64 91.32 L575.26 90.17 L576.88 89.06 L578.51 87.99 L580.13 86.97 L581.76 86.00 L583.38 85.07 L585.00 84.17 L586.63 83.31 L588.25 82.49 L589.87 81.72 L591.50 81.00 L593.12 80.32 L594.75 79.66 L596.37 79.04 L597.99 78.46 L599.62 77.94 L601.24 77.50 L602.86 77.11 L604.49 76.73 L606.11 76.38 L607.73 76.04 L609.36 75.73 L610.98 75.43 L612.61 75.15 L614.23 74.89 L615.85 74.64 L617.48 74.41 L619.10 74.20 L620.72 74.00 L622.35 73.81 L623.97 73.62 L625.60 73.43 L627.22 73.25 L628.84 73.07 L630.47 72.89 L632.09 72.71 L633.71 72.54 L635.34 72.37 L636.96 72.21 L638.58 72.06 L640.21 71.91 L641.83 71.77 L643.46 71.63 L645.08 71.51 L646.70 71.39 L648.33 71.28 L649.95 71.18 L651.57 71.09 L653.20 71.01 L654.82 70.94 L656.44 70.88 L658.07 70.83 L659.69 70.80" fill="none" stroke="#000" stroke-width="1.75" stroke-dasharray="6.3 7.2" stroke-dashoffset="4"/>
<path d="M396.55 49.10 V241.70 H668.80" fill="none" stroke="#000" stroke-width="1.60" stroke-linecap="square"/>
<path d="M396.55 241.70 H392.65" stroke="#000" stroke-width="1.60"/>
<text x="389.95" y="246.75" font-size="17.80" text-anchor="end" transform="rotate(0.05 389.95 246.75)">0.0</text>
<path d="M396.55 217.62 H394.45" stroke="#000" stroke-width="1.44"/>
<path d="M396.55 193.55 H392.65" stroke="#000" stroke-width="1.60"/>
<text x="389.95" y="198.60" font-size="17.80" text-anchor="end" transform="rotate(0.05 389.95 198.60)">0.4</text>
<path d="M396.55 169.47 H394.45" stroke="#000" stroke-width="1.44"/>
<path d="M396.55 145.40 H392.65" stroke="#000" stroke-width="1.60"/>
<text x="389.95" y="150.45" font-size="17.80" text-anchor="end" transform="rotate(0.05 389.95 150.45)">0.8</text>
<path d="M396.55 121.32 H394.45" stroke="#000" stroke-width="1.44"/>
<path d="M396.55 97.25 H392.65" stroke="#000" stroke-width="1.60"/>
<text x="389.95" y="102.30" font-size="17.80" text-anchor="end" transform="rotate(0.05 389.95 102.30)">1.2</text>
<path d="M396.55 73.17 H394.45" stroke="#000" stroke-width="1.44"/>
<path d="M396.55 49.10 H392.65" stroke="#000" stroke-width="1.60"/>
<text x="389.95" y="54.15" font-size="17.80" text-anchor="end" transform="rotate(0.05 389.95 54.15)">1.6</text>
<path d="M406.40 241.70 V245.60" stroke="#000" stroke-width="1.60"/>
<text x="406.40" y="261.60" font-size="17.80" text-anchor="middle" transform="rotate(0.05 406.40 261.60)">0</text>
<path d="M455.11 241.70 V245.60" stroke="#000" stroke-width="1.60"/>
<text x="455.11" y="261.60" font-size="17.80" text-anchor="middle" transform="rotate(0.05 455.11 261.60)">5</text>
<path d="M503.82 241.70 V245.60" stroke="#000" stroke-width="1.60"/>
<text x="503.82" y="261.60" font-size="17.80" text-anchor="middle" transform="rotate(0.05 503.82 261.60)">10</text>
<path d="M552.53 241.70 V245.60" stroke="#000" stroke-width="1.60"/>
<text x="552.53" y="261.60" font-size="17.80" text-anchor="middle" transform="rotate(0.05 552.53 261.60)">15</text>
<path d="M601.24 241.70 V245.60" stroke="#000" stroke-width="1.60"/>
<text x="601.24" y="261.60" font-size="17.80" text-anchor="middle" transform="rotate(0.05 601.24 261.60)">20</text>
<path d="M649.95 241.70 V245.60" stroke="#000" stroke-width="1.60"/>
<text x="649.95" y="261.60" font-size="17.80" text-anchor="middle" transform="rotate(0.05 649.95 261.60)">25</text>
<path d="M430.75 241.70 V243.80" stroke="#000" stroke-width="1.44"/>
<path d="M479.46 241.70 V243.80" stroke="#000" stroke-width="1.44"/>
<path d="M528.17 241.70 V243.80" stroke="#000" stroke-width="1.44"/>
<path d="M576.88 241.70 V243.80" stroke="#000" stroke-width="1.44"/>
<path d="M625.60 241.70 V243.80" stroke="#000" stroke-width="1.44"/>
<text transform="translate(359.30 145.20) rotate(-90) scale(0.943 1)" font-size="23.30" text-anchor="middle">Fluorescence</text>
<text x="532.20" y="296.50" font-size="22.00" text-anchor="middle" transform="rotate(0.05 532.20 296.50)">Zn<tspan font-size="14" dy="-7.8">II</tspan><tspan dy="7.8"> (µM)</tspan></text>
<text x="341.00" y="38.30" font-size="47.50" text-anchor="start" transform="rotate(0.05 341.00 38.30)" style="stroke-width:0.7px">B</text>
<path d="M85.60 359.00 L88.43 359.73 L91.27 360.59 L94.10 361.56 L96.93 362.63 L99.77 363.78 L102.60 365.00 L105.43 366.33 L108.27 367.81 L111.10 369.44 L113.93 371.19 L116.77 373.04 L119.60 375.00 L122.43 377.10 L125.27 379.38 L128.10 381.83 L130.93 384.43 L133.77 387.16 L136.60 390.00 L139.43 393.02 L142.27 396.26 L145.10 399.68 L147.93 403.22 L150.77 406.85 L153.60 410.50 L156.43 414.25 L159.27 418.15 L162.10 422.15 L164.93 426.16 L167.77 430.14 L170.60 434.00 L173.43 437.78 L176.27 441.53 L179.10 445.24 L181.93 448.89 L184.77 452.48 L187.60 456.00 L190.43 459.36 L193.27 462.63 L196.10 466.00 L198.93 469.75 L201.77 473.62 L204.60 477.00 L207.43 479.80 L210.27 482.29 L213.10 484.43 L215.93 486.23 L218.77 487.77 L221.60 489.00 L224.43 490.01 L227.27 490.92 L230.10 491.74 L232.93 492.46 L235.77 493.08 L238.60 493.60 L241.43 494.04 L244.27 494.43 L247.10 494.78 L249.93 495.09 L252.77 495.36 L255.60 495.60 L258.43 495.81 L261.27 496.01 L264.10 496.19 L266.93 496.35 L269.77 496.49 L272.60 496.60 L275.43 496.70 L278.27 496.79 L281.10 496.87 L283.93 496.95 L286.77 497.02 L289.60 497.09 L292.43 497.15 L295.27 497.21 L298.10 497.26 L300.93 497.31 L303.77 497.36 L306.60 497.40 L309.43 497.44 L312.27 497.48 L315.10 497.52 L317.93 497.55 L320.77 497.58 L323.60 497.60" fill="none" stroke="#000" stroke-width="1.35"/>
<path d="M85.60 451.40 L88.43 450.57 L91.27 449.64 L94.10 448.60 L96.93 447.47 L99.77 446.27 L102.60 445.00 L105.43 443.63 L108.27 442.12 L111.10 440.48 L113.93 438.74 L116.77 436.91 L119.60 435.00 L122.43 432.98 L125.27 430.81 L128.10 428.51 L130.93 426.10 L133.77 423.59 L136.60 421.00 L139.43 418.29 L142.27 415.44 L145.10 412.45 L147.93 409.37 L150.77 406.21 L153.60 403.00 L156.43 399.70 L159.27 396.29 L162.10 392.79 L164.93 389.23 L167.77 385.62 L170.60 382.00 L173.43 378.30 L176.27 374.50 L179.10 370.65 L181.93 366.82 L184.77 363.08 L187.60 359.50 L190.43 356.01 L193.27 352.55 L196.10 349.16 L198.93 345.90 L201.77 342.83 L204.60 340.00 L207.43 337.27 L210.27 334.64 L213.10 332.34 L215.93 330.63 L218.77 329.41 L221.60 328.41 L224.43 327.57 L227.27 326.86 L230.10 326.24 L232.93 325.69 L235.77 325.21 L238.60 324.80 L241.43 324.48 L244.27 324.19 L247.10 323.92 L249.93 323.68 L252.77 323.46 L255.60 323.27 L258.43 323.11 L261.27 322.97 L264.10 322.86 L266.93 322.76 L269.77 322.66 L272.60 322.58 L275.43 322.50 L278.27 322.43 L281.10 322.36 L283.93 322.28 L286.77 322.22 L289.60 322.15 L292.43 322.09 L295.27 322.03 L298.10 321.97 L300.93 321.91 L303.77 321.86 L306.60 321.80 L309.43 321.75 L312.27 321.69 L315.10 321.64 L317.93 321.59 L320.77 321.55 L323.60 321.50" fill="none" stroke="#000" stroke-width="1.35"/>
<circle cx="85.60" cy="358.20" r="4.35" fill="#000"/>
<circle cx="102.60" cy="361.00" r="4.35" fill="#000"/>
<circle cx="119.60" cy="366.60" r="4.35" fill="#000"/>
<circle cx="136.60" cy="387.00" r="4.35" fill="#000"/>
<circle cx="153.60" cy="416.00" r="4.35" fill="#000"/>
<circle cx="170.60" cy="446.00" r="4.35" fill="#000"/>
<circle cx="187.60" cy="465.00" r="4.35" fill="#000"/>
<circle cx="204.60" cy="479.60" r="4.35" fill="#000"/>
<circle cx="221.60" cy="487.00" r="4.35" fill="#000"/>
<circle cx="238.60" cy="490.40" r="4.35" fill="#000"/>
<circle cx="255.60" cy="491.80" r="4.35" fill="#000"/>
<circle cx="272.60" cy="494.00" r="4.35" fill="#000"/>
<circle cx="289.60" cy="493.60" r="4.35" fill="#000"/>
<circle cx="306.60" cy="493.80" r="4.35" fill="#000"/>
<circle cx="323.60" cy="493.00" r="4.35" fill="#000"/>
<circle cx="143.00" cy="390.50" r="3.50" fill="#fff" stroke="#000" stroke-width="1.30"/>
<circle cx="136.60" cy="387.00" r="4.35" fill="#000"/>
<circle cx="85.60" cy="447.40" r="3.50" fill="#fff" stroke="#000" stroke-width="1.30"/>
<circle cx="102.60" cy="448.40" r="3.50" fill="#fff" stroke="#000" stroke-width="1.30"/>
<circle cx="119.60" cy="443.60" r="3.50" fill="#fff" stroke="#000" stroke-width="1.30"/>
<circle cx="136.60" cy="428.00" r="3.50" fill="#fff" stroke="#000" stroke-width="1.30"/>
<circle cx="153.60" cy="397.40" r="3.50" fill="#fff" stroke="#000" stroke-width="1.30"/>
<circle cx="170.60" cy="374.00" r="3.50" fill="#fff" stroke="#000" stroke-width="1.30"/>
<circle cx="187.60" cy="353.60" r="3.50" fill="#fff" stroke="#000" stroke-width="1.30"/>
<circle cx="204.60" cy="340.00" r="3.50" fill="#fff" stroke="#000" stroke-width="1.30"/>
<circle cx="221.60" cy="333.40" r="3.50" fill="#fff" stroke="#000" stroke-width="1.30"/>
<circle cx="238.60" cy="329.00" r="3.50" fill="#fff" stroke="#000" stroke-width="1.30"/>
<circle cx="255.60" cy="327.60" r="3.50" fill="#fff" stroke="#000" stroke-width="1.30"/>
<circle cx="272.60" cy="323.00" r="3.50" fill="#fff" stroke="#000" stroke-width="1.30"/>
<circle cx="289.60" cy="322.60" r="3.50" fill="#fff" stroke="#000" stroke-width="1.30"/>
<circle cx="306.60" cy="321.00" r="3.50" fill="#fff" stroke="#000" stroke-width="1.30"/>
<circle cx="323.60" cy="321.00" r="3.50" fill="#fff" stroke="#000" stroke-width="1.30"/>
<path d="M85.60 359.00 L88.43 362.17 L91.27 365.33 L94.10 368.50 L96.93 371.67 L99.77 374.83 L102.60 378.00 L105.43 381.19 L108.27 384.41 L111.10 387.63 L113.93 390.82 L116.77 393.96 L119.60 397.00 L122.43 399.92 L125.27 402.74 L128.10 405.50 L130.93 408.26 L133.77 411.08 L136.60 414.00 L139.43 417.08 L142.27 420.28 L145.10 423.54 L147.93 426.79 L150.77 429.96 L153.60 433.00 L156.43 435.88 L159.27 438.67 L162.10 441.40 L164.93 444.09 L167.77 446.78 L170.60 449.50 L173.43 452.28 L176.27 455.10 L179.10 457.92 L181.93 460.70 L184.77 463.41 L187.60 466.00 L190.43 468.54 L193.27 471.06 L196.10 473.52 L198.93 475.87 L201.77 478.05 L204.60 480.00 L207.43 481.79 L210.27 483.51 L213.10 485.11 L215.93 486.58 L218.77 487.88 L221.60 489.00 L224.43 489.98 L227.27 490.89 L230.10 491.71 L232.93 492.45 L235.77 493.08 L238.60 493.60 L241.43 494.04 L244.27 494.43 L247.10 494.78 L249.93 495.09 L252.77 495.36 L255.60 495.60 L258.43 495.82 L261.27 496.02 L264.10 496.20 L266.93 496.36 L269.77 496.49 L272.60 496.60 L275.43 496.69 L278.27 496.78 L281.10 496.86 L283.93 496.95 L286.77 497.03 L289.60 497.10 L292.43 497.17 L295.27 497.24 L298.10 497.30 L300.93 497.36 L303.77 497.42 L306.60 497.46 L309.43 497.50 L312.27 497.54 L315.10 497.56 L317.93 497.58 L320.77 497.60 L323.60 497.60" fill="none" stroke="#000" stroke-width="1.75" stroke-dasharray="6.3 7.2" stroke-dashoffset="0"/>
<path d="M85.60 359.00 L88.43 359.08 L91.27 359.21 L94.10 359.37 L96.93 359.56 L99.77 359.77 L102.60 360.00 L105.43 360.27 L108.27 360.61 L111.10 361.00 L113.93 361.41 L116.77 361.89 L119.60 362.50 L122.43 363.33 L125.27 364.48 L128.10 366.00 L130.93 368.52 L133.77 372.12 L136.60 376.00 L139.43 380.12 L142.27 384.62 L145.10 389.00 L147.93 393.07 L150.77 397.04 L153.60 401.00 L156.43 404.93 L159.27 408.86 L162.10 413.00 L164.93 417.51 L167.77 422.25 L170.60 427.00 L173.43 431.75 L176.27 436.49 L179.10 441.00 L181.93 445.14 L184.77 449.07 L187.60 453.00 L190.43 457.00 L193.27 461.00 L196.10 465.00 L198.93 469.18 L201.77 473.36 L204.60 477.00 L207.43 480.07 L210.27 482.78 L213.10 485.00 L215.93 486.80 L218.77 488.32 L221.60 489.50 L224.43 490.45 L227.27 491.32 L230.10 492.09 L232.93 492.74 L235.77 493.25 L238.60 493.60 L241.43 493.86 L244.27 494.11 L247.10 494.35 L249.93 494.58 L252.77 494.81 L255.60 495.02 L258.43 495.23 L261.27 495.43 L264.10 495.62 L266.93 495.80 L269.77 495.98 L272.60 496.14 L275.43 496.30 L278.27 496.45 L281.10 496.58 L283.93 496.71 L286.77 496.84 L289.60 496.95 L292.43 497.05 L295.27 497.15 L298.10 497.23 L300.93 497.31 L303.77 497.38 L306.60 497.44 L309.43 497.49 L312.27 497.53 L315.10 497.56 L317.93 497.58 L320.77 497.60 L323.60 497.60" fill="none" stroke="#000" stroke-width="1.75" stroke-dasharray="6.3 7.2" stroke-dashoffset="1"/>
<path d="M85.60 451.40 L88.43 448.56 L91.27 445.72 L94.10 442.90 L96.93 440.09 L99.77 437.29 L102.60 434.50 L105.43 431.73 L108.27 428.99 L111.10 426.26 L113.93 423.52 L116.77 420.77 L119.60 418.00 L122.43 415.20 L125.27 412.39 L128.10 409.56 L130.93 406.72 L133.77 403.87 L136.60 401.00 L139.43 398.08 L142.27 395.10 L145.10 392.11 L147.93 389.15 L150.77 386.27 L153.60 383.50 L156.43 380.88 L159.27 378.38 L162.10 375.95 L164.93 373.52 L167.77 371.06 L170.60 368.50 L173.43 365.82 L176.27 363.06 L179.10 360.25 L181.93 357.44 L184.77 354.68 L187.60 352.00 L190.43 349.32 L193.27 346.58 L196.10 343.88 L198.93 341.32 L201.77 338.99 L204.60 337.00 L207.43 335.32 L210.27 333.84 L213.10 332.49 L215.93 331.24 L218.77 330.03 L221.60 328.85 L224.43 327.77 L227.27 326.88 L230.10 326.22 L232.93 325.67 L235.77 325.19 L238.60 324.80 L241.43 324.48 L244.27 324.18 L247.10 323.91 L249.93 323.67 L252.77 323.45 L255.60 323.26 L258.43 323.10 L261.27 322.98 L264.10 322.86 L266.93 322.76 L269.77 322.65 L272.60 322.54 L275.43 322.44 L278.27 322.35 L281.10 322.25 L283.93 322.17 L286.77 322.08 L289.60 322.00 L292.43 321.93 L295.27 321.86 L298.10 321.79 L300.93 321.73 L303.77 321.68 L306.60 321.63 L309.43 321.59 L312.27 321.56 L315.10 321.53 L317.93 321.52 L320.77 321.50 L323.60 321.50" fill="none" stroke="#000" stroke-width="1.75" stroke-dasharray="6.3 7.2" stroke-dashoffset="0"/>
<path d="M85.60 451.40 L88.43 451.27 L91.27 451.09 L94.10 450.86 L96.93 450.60 L99.77 450.31 L102.60 450.00 L105.43 449.66 L108.27 449.28 L111.10 448.84 L113.93 448.32 L116.77 447.71 L119.60 447.00 L122.43 446.05 L125.27 444.71 L128.10 443.00 L130.93 440.40 L133.77 436.84 L136.60 433.00 L139.43 428.92 L142.27 424.46 L145.10 420.00 L147.93 415.59 L150.77 411.17 L153.60 407.00 L156.43 403.16 L159.27 399.52 L162.10 396.00 L164.93 392.66 L167.77 389.43 L170.60 386.00 L173.43 382.18 L176.27 378.12 L179.10 374.00 L181.93 369.83 L184.77 365.61 L187.60 361.50 L190.43 357.54 L193.27 353.68 L196.10 350.00 L198.93 346.44 L201.77 343.03 L204.60 340.00 L207.43 337.23 L210.27 334.60 L213.10 332.32 L215.93 330.63 L218.77 329.36 L221.60 328.26 L224.43 327.37 L227.27 326.76 L230.10 326.41 L232.93 326.10 L235.77 325.81 L238.60 325.52 L241.43 325.25 L244.27 324.98 L247.10 324.73 L249.93 324.48 L252.77 324.25 L255.60 324.03 L258.43 323.81 L261.27 323.61 L264.10 323.42 L266.93 323.23 L269.77 323.06 L272.60 322.90 L275.43 322.74 L278.27 322.60 L281.10 322.46 L283.93 322.33 L286.77 322.22 L289.60 322.11 L292.43 322.01 L295.27 321.92 L298.10 321.84 L300.93 321.77 L303.77 321.70 L306.60 321.65 L309.43 321.60 L312.27 321.57 L315.10 321.54 L317.93 321.52 L320.77 321.50 L323.60 321.50" fill="none" stroke="#000" stroke-width="1.75" stroke-dasharray="6.3 7.2" stroke-dashoffset="3"/>
<path d="M68.90 315.00 V508.20 H340.80" fill="none" stroke="#000" stroke-width="1.60" stroke-linecap="square"/>
<path d="M68.90 508.20 H65.00" stroke="#000" stroke-width="1.60"/>
<text x="62.30" y="513.25" font-size="17.80" text-anchor="end" transform="rotate(0.05 62.30 513.25)">0.00</text>
<path d="M68.90 484.05 H66.80" stroke="#000" stroke-width="1.44"/>
<path d="M68.90 459.90 H65.00" stroke="#000" stroke-width="1.60"/>
<text x="62.30" y="464.95" font-size="17.80" text-anchor="end" transform="rotate(0.05 62.30 464.95)">0.04</text>
<path d="M68.90 435.75 H66.80" stroke="#000" stroke-width="1.44"/>
<path d="M68.90 411.60 H65.00" stroke="#000" stroke-width="1.60"/>
<text x="62.30" y="416.65" font-size="17.80" text-anchor="end" transform="rotate(0.05 62.30 416.65)">0.08</text>
<path d="M68.90 387.45 H66.80" stroke="#000" stroke-width="1.44"/>
<path d="M68.90 363.30 H65.00" stroke="#000" stroke-width="1.60"/>
<text x="62.30" y="368.35" font-size="17.80" text-anchor="end" transform="rotate(0.05 62.30 368.35)">0.12</text>
<path d="M68.90 339.15 H66.80" stroke="#000" stroke-width="1.44"/>
<path d="M68.90 315.00 H65.00" stroke="#000" stroke-width="1.60"/>
<text x="62.30" y="320.05" font-size="17.80" text-anchor="end" transform="rotate(0.05 62.30 320.05)">0.16</text>
<path d="M85.60 508.20 V512.10" stroke="#000" stroke-width="1.60"/>
<text x="85.60" y="528.10" font-size="17.80" text-anchor="middle" transform="rotate(0.05 85.60 528.10)">0</text>
<path d="M170.60 508.20 V512.10" stroke="#000" stroke-width="1.60"/>
<text x="170.60" y="528.10" font-size="17.80" text-anchor="middle" transform="rotate(0.05 170.60 528.10)">5</text>
<path d="M255.60 508.20 V512.10" stroke="#000" stroke-width="1.60"/>
<text x="255.60" y="528.10" font-size="17.80" text-anchor="middle" transform="rotate(0.05 255.60 528.10)">10</text>
<path d="M340.60 508.20 V512.10" stroke="#000" stroke-width="1.60"/>
<text x="340.60" y="528.10" font-size="17.80" text-anchor="middle" transform="rotate(0.05 340.60 528.10)">15</text>
<path d="M128.10 508.20 V510.30" stroke="#000" stroke-width="1.44"/>
<path d="M213.10 508.20 V510.30" stroke="#000" stroke-width="1.44"/>
<path d="M298.10 508.20 V510.30" stroke="#000" stroke-width="1.44"/>
<text transform="translate(22.00 411.60) rotate(-90) scale(0.952 1)" font-size="23.30" text-anchor="middle">Absorbance</text>
<text x="204.80" y="562.40" font-size="22.00" text-anchor="middle" transform="rotate(0.05 204.80 562.40)">Zn<tspan font-size="14" dy="-7.8">II</tspan><tspan dy="7.8"> (µM)</tspan></text>
<text x="9.30" y="302.30" font-size="47.50" text-anchor="start" transform="rotate(0.05 9.30 302.30)" style="stroke-width:0.7px">C</text>
<path d="M408.90 359.00 L410.96 360.50 L413.02 362.00 L415.09 363.50 L417.15 365.00 L419.21 366.50 L421.27 368.00 L423.34 369.50 L425.40 371.00 L427.46 372.50 L429.52 374.00 L431.59 375.50 L433.65 377.00 L435.71 378.50 L437.77 380.00 L439.84 381.50 L441.90 383.00 L443.96 384.50 L446.02 386.00 L448.09 387.51 L450.15 389.04 L452.21 390.57 L454.27 392.08 L456.34 393.56 L458.40 395.00 L460.46 396.39 L462.52 397.74 L464.59 399.06 L466.65 400.37 L468.71 401.68 L470.77 403.00 L472.84 404.35 L474.90 405.71 L476.96 407.07 L479.02 408.41 L481.09 409.73 L483.15 411.00 L485.21 412.23 L487.27 413.42 L489.34 414.59 L491.40 415.74 L493.46 416.87 L495.52 418.00 L497.59 419.12 L499.65 420.22 L501.71 421.31 L503.77 422.39 L505.84 423.45 L507.90 424.50 L509.96 425.54 L512.02 426.58 L514.09 427.60 L516.15 428.60 L518.21 429.57 L520.27 430.50 L522.34 431.39 L524.40 432.26 L526.46 433.10 L528.52 433.92 L530.59 434.72 L532.65 435.50 L534.71 436.27 L536.77 437.03 L538.84 437.77 L540.90 438.48 L542.96 439.16 L545.02 439.80 L547.09 440.40 L549.15 440.96 L551.21 441.50 L553.27 442.02 L555.34 442.52 L557.40 443.00 L559.46 443.47 L561.52 443.94 L563.59 444.38 L565.65 444.81 L567.71 445.22 L569.77 445.60 L571.84 445.96 L573.90 446.30 L575.96 446.63 L578.02 446.94 L580.09 447.23 L582.15 447.50 L584.21 447.75 L586.27 447.98 L588.34 448.20 L590.40 448.41 L592.46 448.61 L594.52 448.80 L596.59 448.98 L598.65 449.16 L600.71 449.33 L602.77 449.49 L604.84 449.65 L606.90 449.80 L608.96 449.94 L611.02 450.08 L613.09 450.21 L615.15 450.34 L617.21 450.47 L619.27 450.60 L621.34 450.74 L623.40 450.88 L625.46 451.01 L627.52 451.15 L629.59 451.28 L631.65 451.40 L633.71 451.51 L635.77 451.61 L637.84 451.71 L639.90 451.81 L641.96 451.90 L644.02 452.00 L646.09 452.10 L648.15 452.20 L650.21 452.30 L652.27 452.40 L654.34 452.50 L656.40 452.60" fill="none" stroke="#000" stroke-width="1.35"/>
<path d="M408.90 466.00 L410.96 463.83 L413.02 461.67 L415.09 459.50 L417.15 457.33 L419.21 455.17 L421.27 453.00 L423.34 450.83 L425.40 448.67 L427.46 446.50 L429.52 444.33 L431.59 442.17 L433.65 440.00 L435.71 437.83 L437.77 435.67 L439.84 433.50 L441.90 431.33 L443.96 429.17 L446.02 427.00 L448.09 424.83 L450.15 422.67 L452.21 420.50 L454.27 418.33 L456.34 416.17 L458.40 414.00 L460.46 411.83 L462.52 409.67 L464.59 407.50 L466.65 405.33 L468.71 403.17 L470.77 401.00 L472.84 398.83 L474.90 396.65 L476.96 394.47 L479.02 392.30 L481.09 390.14 L483.15 388.00 L485.21 385.88 L487.27 383.76 L489.34 381.65 L491.40 379.57 L493.46 377.52 L495.52 375.50 L497.59 373.50 L499.65 371.51 L501.71 369.55 L503.77 367.64 L505.84 365.78 L507.90 364.00 L509.96 362.29 L512.02 360.62 L514.09 359.00 L516.15 357.43 L518.21 355.93 L520.27 354.50 L522.34 353.12 L524.40 351.79 L526.46 350.51 L528.52 349.28 L530.59 348.11 L532.65 347.00 L534.71 345.94 L536.77 344.93 L538.84 343.95 L540.90 343.02 L542.96 342.14 L545.02 341.30 L547.09 340.50 L549.15 339.72 L551.21 338.98 L553.27 338.28 L555.34 337.61 L557.40 337.00 L559.46 336.43 L561.52 335.90 L563.59 335.39 L565.65 334.91 L567.71 334.45 L569.77 334.00 L571.84 333.56 L573.90 333.14 L575.96 332.72 L578.02 332.33 L580.09 331.95 L582.15 331.60 L584.21 331.26 L586.27 330.94 L588.34 330.63 L590.40 330.34 L592.46 330.06 L594.52 329.80 L596.59 329.56 L598.65 329.32 L600.71 329.10 L602.77 328.89 L604.84 328.69 L606.90 328.50 L608.96 328.31 L611.02 328.13 L613.09 327.95 L615.15 327.79 L617.21 327.63 L619.27 327.50 L621.34 327.38 L623.40 327.27 L625.46 327.17 L627.52 327.07 L629.59 326.98 L631.65 326.90 L633.71 326.82 L635.77 326.75 L637.84 326.68 L639.90 326.62 L641.96 326.56 L644.02 326.50 L646.09 326.44 L648.15 326.39 L650.21 326.34 L652.27 326.29 L654.34 326.24 L656.40 326.20" fill="none" stroke="#000" stroke-width="1.35"/>
<circle cx="408.90" cy="362.60" r="4.05" fill="#000"/>
<circle cx="421.27" cy="366.00" r="4.05" fill="#000"/>
<circle cx="433.65" cy="375.00" r="4.05" fill="#000"/>
<circle cx="446.02" cy="385.00" r="4.05" fill="#000"/>
<circle cx="458.40" cy="396.60" r="4.05" fill="#000"/>
<circle cx="470.77" cy="400.60" r="4.05" fill="#000"/>
<circle cx="483.15" cy="409.20" r="4.05" fill="#000"/>
<circle cx="495.52" cy="418.40" r="4.05" fill="#000"/>
<circle cx="507.90" cy="424.60" r="4.05" fill="#000"/>
<circle cx="520.27" cy="432.80" r="4.05" fill="#000"/>
<circle cx="532.65" cy="436.40" r="4.05" fill="#000"/>
<circle cx="545.02" cy="440.60" r="4.05" fill="#000"/>
<circle cx="557.40" cy="442.60" r="4.05" fill="#000"/>
<circle cx="569.77" cy="446.00" r="4.05" fill="#000"/>
<circle cx="582.15" cy="447.60" r="4.05" fill="#000"/>
<circle cx="594.52" cy="448.60" r="4.05" fill="#000"/>
<circle cx="606.90" cy="449.00" r="4.05" fill="#000"/>
<circle cx="619.27" cy="451.00" r="4.05" fill="#000"/>
<circle cx="631.65" cy="451.80" r="4.05" fill="#000"/>
<circle cx="644.02" cy="451.80" r="4.05" fill="#000"/>
<circle cx="656.40" cy="453.40" r="4.05" fill="#000"/>
<circle cx="408.90" cy="463.60" r="3.15" fill="#fff" stroke="#000" stroke-width="1.30"/>
<circle cx="421.27" cy="457.60" r="3.15" fill="#fff" stroke="#000" stroke-width="1.30"/>
<circle cx="433.65" cy="445.00" r="3.15" fill="#fff" stroke="#000" stroke-width="1.30"/>
<circle cx="446.02" cy="426.60" r="3.15" fill="#fff" stroke="#000" stroke-width="1.30"/>
<circle cx="458.40" cy="412.80" r="3.15" fill="#fff" stroke="#000" stroke-width="1.30"/>
<circle cx="470.77" cy="396.50" r="3.15" fill="#fff" stroke="#000" stroke-width="1.30"/>
<circle cx="483.15" cy="384.60" r="3.15" fill="#fff" stroke="#000" stroke-width="1.30"/>
<circle cx="495.52" cy="370.40" r="3.15" fill="#fff" stroke="#000" stroke-width="1.30"/>
<circle cx="507.90" cy="360.00" r="3.15" fill="#fff" stroke="#000" stroke-width="1.30"/>
<circle cx="520.27" cy="348.60" r="3.15" fill="#fff" stroke="#000" stroke-width="1.30"/>
<circle cx="532.65" cy="345.60" r="3.15" fill="#fff" stroke="#000" stroke-width="1.30"/>
<circle cx="545.02" cy="341.40" r="3.15" fill="#fff" stroke="#000" stroke-width="1.30"/>
<circle cx="557.40" cy="338.00" r="3.15" fill="#fff" stroke="#000" stroke-width="1.30"/>
<circle cx="569.77" cy="333.40" r="3.15" fill="#fff" stroke="#000" stroke-width="1.30"/>
<circle cx="582.15" cy="332.00" r="3.15" fill="#fff" stroke="#000" stroke-width="1.30"/>
<circle cx="594.52" cy="328.80" r="3.15" fill="#fff" stroke="#000" stroke-width="1.30"/>
<circle cx="606.90" cy="329.40" r="3.15" fill="#fff" stroke="#000" stroke-width="1.30"/>
<circle cx="619.27" cy="327.00" r="3.15" fill="#fff" stroke="#000" stroke-width="1.30"/>
<circle cx="631.65" cy="327.00" r="3.15" fill="#fff" stroke="#000" stroke-width="1.30"/>
<circle cx="644.02" cy="326.20" r="3.15" fill="#fff" stroke="#000" stroke-width="1.30"/>
<circle cx="656.40" cy="326.20" r="3.15" fill="#fff" stroke="#000" stroke-width="1.30"/>
<path d="M408.90 359.00 L410.96 363.59 L413.02 368.07 L415.09 372.44 L417.15 376.69 L419.21 380.89 L421.27 384.97 L423.34 388.90 L425.40 392.61 L427.46 396.21 L429.52 399.64 L431.59 402.82 L433.65 405.71 L435.71 408.45 L437.77 411.03 L439.84 413.42 L441.90 415.59 L443.96 417.58 L446.02 419.45 L448.09 421.20 L450.15 422.83 L452.21 424.35 L454.27 425.74 L456.34 427.01 L458.40 428.21 L460.46 429.33 L462.52 430.38 L464.59 431.37 L466.65 432.29 L468.71 433.17 L470.77 434.01 L472.84 434.80 L474.90 435.56 L476.96 436.27 L479.02 436.94 L481.09 437.58 L483.15 438.17 L485.21 438.74 L487.27 439.27 L489.34 439.77 L491.40 440.25 L493.46 440.71 L495.52 441.14 L497.59 441.57 L499.65 441.97 L501.71 442.35 L503.77 442.71 L505.84 443.06 L507.90 443.40 L509.96 443.72 L512.02 444.04 L514.09 444.34 L516.15 444.63 L518.21 444.92 L520.27 445.20 L522.34 445.49 L524.40 445.78 L526.46 446.07 L528.52 446.34 L530.59 446.59 L532.65 446.80 L534.71 446.98 L536.77 447.15 L538.84 447.30 L540.90 447.44 L542.96 447.58 L545.02 447.71 L547.09 447.83 L549.15 447.95 L551.21 448.07 L553.27 448.19 L555.34 448.31 L557.40 448.43 L559.46 448.54 L561.52 448.65 L563.59 448.75 L565.65 448.84 L567.71 448.93 L569.77 449.00 L571.84 449.06 L573.90 449.12 L575.96 449.17 L578.02 449.22 L580.09 449.27 L582.15 449.31 L584.21 449.35 L586.27 449.39 L588.34 449.44 L590.40 449.49 L592.46 449.54 L594.52 449.60 L596.59 449.66 L598.65 449.73 L600.71 449.81 L602.77 449.89 L604.84 449.97 L606.90 450.05 L608.96 450.14 L611.02 450.23 L613.09 450.32 L615.15 450.41 L617.21 450.51 L619.27 450.60 L621.34 450.70 L623.40 450.79 L625.46 450.89 L627.52 450.99 L629.59 451.10 L631.65 451.20 L633.71 451.31 L635.77 451.41 L637.84 451.52 L639.90 451.64 L641.96 451.75 L644.02 451.87 L646.09 451.98 L648.15 452.10 L650.21 452.22 L652.27 452.35 L654.34 452.47 L656.40 452.60" fill="none" stroke="#000" stroke-width="1.75" stroke-dasharray="6.3 7.2" stroke-dashoffset="0"/>
<path d="M408.90 358.50 L410.96 358.56 L413.02 358.64 L415.09 358.76 L417.15 358.89 L419.21 359.05 L421.27 359.22 L423.34 359.40 L425.40 359.59 L427.46 359.82 L429.52 360.10 L431.59 360.41 L433.65 360.75 L435.71 361.11 L437.77 361.49 L439.84 361.86 L441.90 362.24 L443.96 362.63 L446.02 363.05 L448.09 363.49 L450.15 363.97 L452.21 364.50 L454.27 365.10 L456.34 365.78 L458.40 366.52 L460.46 367.32 L462.52 368.15 L464.59 369.00 L466.65 369.89 L468.71 370.82 L470.77 371.81 L472.84 372.84 L474.90 373.90 L476.96 375.00 L479.02 376.11 L481.09 377.26 L483.15 378.45 L485.21 379.71 L487.27 381.07 L489.34 382.55 L491.40 384.22 L493.46 386.04 L495.52 387.97 L497.59 389.98 L499.65 392.04 L501.71 394.22 L503.77 396.50 L505.84 398.83 L507.90 401.17 L509.96 403.48 L512.02 405.82 L514.09 408.18 L516.15 410.53 L518.21 412.87 L520.27 415.20 L522.34 417.54 L524.40 419.91 L526.46 422.41 L528.52 424.89 L530.59 427.18 L532.65 429.15 L534.71 430.97 L536.77 432.63 L538.84 434.16 L540.90 435.54 L542.96 436.86 L545.02 438.08 L547.09 439.20 L549.15 440.16 L551.21 440.97 L553.27 441.70 L555.34 442.37 L557.40 442.98 L559.46 443.54 L561.52 444.04 L563.59 444.50 L565.65 444.92 L567.71 445.32 L569.77 445.70 L571.84 446.05 L573.90 446.38 L575.96 446.68 L578.02 446.97 L580.09 447.25 L582.15 447.50 L584.21 447.74 L586.27 447.97 L588.34 448.19 L590.40 448.40 L592.46 448.60 L594.52 448.80 L596.59 448.98 L598.65 449.16 L600.71 449.33 L602.77 449.49 L604.84 449.65 L606.90 449.80 L608.96 449.95 L611.02 450.10 L613.09 450.24 L615.15 450.38 L617.21 450.53 L619.27 450.67 L621.34 450.80 L623.40 450.94 L625.46 451.07 L627.52 451.20 L629.59 451.32 L631.65 451.45 L633.71 451.57 L635.77 451.68 L637.84 451.79 L639.90 451.90 L641.96 452.01 L644.02 452.11 L646.09 452.20 L648.15 452.29 L650.21 452.38 L652.27 452.46 L654.34 452.53 L656.40 452.60" fill="none" stroke="#000" stroke-width="1.75" stroke-dasharray="6.3 7.2" stroke-dashoffset="3"/>
<path d="M408.90 466.00 L410.96 458.89 L413.02 451.87 L415.09 444.91 L417.15 437.89 L419.21 431.07 L421.27 424.82 L423.34 419.04 L425.40 413.65 L427.46 408.65 L429.52 404.02 L431.59 399.67 L433.65 395.56 L435.71 391.64 L437.77 387.89 L439.84 384.28 L441.90 380.71 L443.96 377.10 L446.02 373.58 L448.09 370.34 L450.15 367.54 L452.21 365.23 L454.27 363.18 L456.34 361.34 L458.40 359.64 L460.46 358.03 L462.52 356.48 L464.59 355.01 L466.65 353.61 L468.71 352.29 L470.77 351.05 L472.84 349.89 L474.90 348.79 L476.96 347.75 L479.02 346.77 L481.09 345.85 L483.15 344.99 L485.21 344.19 L487.27 343.44 L489.34 342.75 L491.40 342.09 L493.46 341.46 L495.52 340.85 L497.59 340.27 L499.65 339.69 L501.71 339.14 L503.77 338.61 L505.84 338.11 L507.90 337.65 L509.96 337.24 L512.02 336.88 L514.09 336.54 L516.15 336.21 L518.21 335.87 L520.27 335.50 L522.34 335.08 L524.40 334.61 L526.46 334.15 L528.52 333.71 L530.59 333.34 L532.65 332.99 L534.71 332.65 L536.77 332.33 L538.84 332.01 L540.90 331.71 L542.96 331.43 L545.02 331.17 L547.09 330.92 L549.15 330.69 L551.21 330.47 L553.27 330.27 L555.34 330.08 L557.40 329.90 L559.46 329.73 L561.52 329.57 L563.59 329.42 L565.65 329.27 L567.71 329.13 L569.77 329.00 L571.84 328.88 L573.90 328.76 L575.96 328.65 L578.02 328.54 L580.09 328.44 L582.15 328.34 L584.21 328.24 L586.27 328.15 L588.34 328.06 L590.40 327.96 L592.46 327.87 L594.52 327.78 L596.59 327.69 L598.65 327.60 L600.71 327.51 L602.77 327.43 L604.84 327.35 L606.90 327.28 L608.96 327.21 L611.02 327.15 L613.09 327.10 L615.15 327.05 L617.21 327.00 L619.27 326.95 L621.34 326.91 L623.40 326.87 L625.46 326.83 L627.52 326.79 L629.59 326.74 L631.65 326.70 L633.71 326.66 L635.77 326.61 L637.84 326.57 L639.90 326.53 L641.96 326.48 L644.02 326.44 L646.09 326.40 L648.15 326.36 L650.21 326.32 L652.27 326.28 L654.34 326.24 L656.40 326.20" fill="none" stroke="#000" stroke-width="1.75" stroke-dasharray="6.3 7.2" stroke-dashoffset="3"/>
<path d="M408.90 467.00 L410.96 466.86 L413.02 466.67 L415.09 466.44 L417.15 466.17 L419.21 465.87 L421.27 465.55 L423.34 465.20 L425.40 464.83 L427.46 464.41 L429.52 463.93 L431.59 463.39 L433.65 462.80 L435.71 462.17 L437.77 461.50 L439.84 460.79 L441.90 460.06 L443.96 459.31 L446.02 458.52 L448.09 457.67 L450.15 456.74 L452.21 455.75 L454.27 454.71 L456.34 453.62 L458.40 452.50 L460.46 451.35 L462.52 450.18 L464.59 449.00 L466.65 447.81 L468.71 446.59 L470.77 445.32 L472.84 443.98 L474.90 442.54 L476.96 441.00 L479.02 439.29 L481.09 437.39 L483.15 435.32 L485.21 433.08 L487.27 430.56 L489.34 427.84 L491.40 425.00 L493.46 422.13 L495.52 419.31 L497.59 416.45 L499.65 413.55 L501.71 410.60 L503.77 407.60 L505.84 404.59 L507.90 401.49 L509.96 398.09 L512.02 394.32 L514.09 390.37 L516.15 386.41 L518.21 382.30 L520.27 378.26 L522.34 374.56 L524.40 371.08 L526.46 367.78 L528.52 364.66 L530.59 361.74 L532.65 359.03 L534.71 356.47 L536.77 353.98 L538.84 351.49 L540.90 348.95 L542.96 346.72 L545.02 345.05 L547.09 343.61 L549.15 342.34 L551.21 341.20 L553.27 340.15 L555.34 339.16 L557.40 338.20 L559.46 337.30 L561.52 336.49 L563.59 335.80 L565.65 335.20 L567.71 334.63 L569.77 334.11 L571.84 333.61 L573.90 333.15 L575.96 332.72 L578.02 332.32 L580.09 331.95 L582.15 331.60 L584.21 331.27 L586.27 330.94 L588.34 330.63 L590.40 330.33 L592.46 330.04 L594.52 329.77 L596.59 329.51 L598.65 329.27 L600.71 329.04 L602.77 328.84 L604.84 328.66 L606.90 328.50 L608.96 328.35 L611.02 328.21 L613.09 328.06 L615.15 327.92 L617.21 327.78 L619.27 327.64 L621.34 327.51 L623.40 327.38 L625.46 327.25 L627.52 327.13 L629.59 327.02 L631.65 326.91 L633.71 326.80 L635.77 326.71 L637.84 326.62 L639.90 326.53 L641.96 326.46 L644.02 326.39 L646.09 326.34 L648.15 326.29 L650.21 326.25 L652.27 326.22 L654.34 326.21 L656.40 326.20" fill="none" stroke="#000" stroke-width="1.75" stroke-dasharray="6.3 7.2" stroke-dashoffset="0.5"/>
<path d="M396.55 315.40 V508.25 H668.60" fill="none" stroke="#000" stroke-width="1.60" stroke-linecap="square"/>
<path d="M396.55 508.25 H392.65" stroke="#000" stroke-width="1.60"/>
<text x="389.95" y="513.30" font-size="17.80" text-anchor="end" transform="rotate(0.05 389.95 513.30)">0.0</text>
<path d="M396.55 488.96 H394.45" stroke="#000" stroke-width="1.44"/>
<path d="M396.55 469.68 H392.65" stroke="#000" stroke-width="1.60"/>
<text x="389.95" y="474.73" font-size="17.80" text-anchor="end" transform="rotate(0.05 389.95 474.73)">0.2</text>
<path d="M396.55 450.39 H394.45" stroke="#000" stroke-width="1.44"/>
<path d="M396.55 431.11 H392.65" stroke="#000" stroke-width="1.60"/>
<text x="389.95" y="436.16" font-size="17.80" text-anchor="end" transform="rotate(0.05 389.95 436.16)">0.4</text>
<path d="M396.55 411.82 H394.45" stroke="#000" stroke-width="1.44"/>
<path d="M396.55 392.54 H392.65" stroke="#000" stroke-width="1.60"/>
<text x="389.95" y="397.59" font-size="17.80" text-anchor="end" transform="rotate(0.05 389.95 397.59)">0.6</text>
<path d="M396.55 373.25 H394.45" stroke="#000" stroke-width="1.44"/>
<path d="M396.55 353.97 H392.65" stroke="#000" stroke-width="1.60"/>
<text x="389.95" y="359.02" font-size="17.80" text-anchor="end" transform="rotate(0.05 389.95 359.02)">0.8</text>
<path d="M396.55 334.68 H394.45" stroke="#000" stroke-width="1.44"/>
<path d="M396.55 315.40 H392.65" stroke="#000" stroke-width="1.60"/>
<text x="389.95" y="320.45" font-size="17.80" text-anchor="end" transform="rotate(0.05 389.95 320.45)">1.0</text>
<path d="M408.90 508.25 V512.15" stroke="#000" stroke-width="1.60"/>
<text x="408.90" y="528.15" font-size="17.80" text-anchor="middle" transform="rotate(0.05 408.90 528.15)">0</text>
<path d="M470.77 508.25 V512.15" stroke="#000" stroke-width="1.60"/>
<text x="470.77" y="528.15" font-size="17.80" text-anchor="middle" transform="rotate(0.05 470.77 528.15)">5</text>
<path d="M532.65 508.25 V512.15" stroke="#000" stroke-width="1.60"/>
<text x="532.65" y="528.15" font-size="17.80" text-anchor="middle" transform="rotate(0.05 532.65 528.15)">10</text>
<path d="M594.52 508.25 V512.15" stroke="#000" stroke-width="1.60"/>
<text x="594.52" y="528.15" font-size="17.80" text-anchor="middle" transform="rotate(0.05 594.52 528.15)">15</text>
<path d="M656.40 508.25 V512.15" stroke="#000" stroke-width="1.60"/>
<text x="656.40" y="528.15" font-size="17.80" text-anchor="middle" transform="rotate(0.05 656.40 528.15)">20</text>
<path d="M439.84 508.25 V510.35" stroke="#000" stroke-width="1.44"/>
<path d="M501.71 508.25 V510.35" stroke="#000" stroke-width="1.44"/>
<path d="M563.59 508.25 V510.35" stroke="#000" stroke-width="1.44"/>
<path d="M625.46 508.25 V510.35" stroke="#000" stroke-width="1.44"/>
<text transform="translate(359.30 411.93) rotate(-90) scale(0.943 1)" font-size="23.30" text-anchor="middle">Fluorescence</text>
<text x="532.20" y="562.40" font-size="22.00" text-anchor="middle" transform="rotate(0.05 532.20 562.40)">Zn<tspan font-size="14" dy="-7.8">II</tspan><tspan dy="7.8"> (µM)</tspan></text>
<text x="341.10" y="302.50" font-size="47.50" text-anchor="start" transform="rotate(0.05 341.10 302.50)" style="stroke-width:0.7px">D</text>
</svg>
</body></html>
